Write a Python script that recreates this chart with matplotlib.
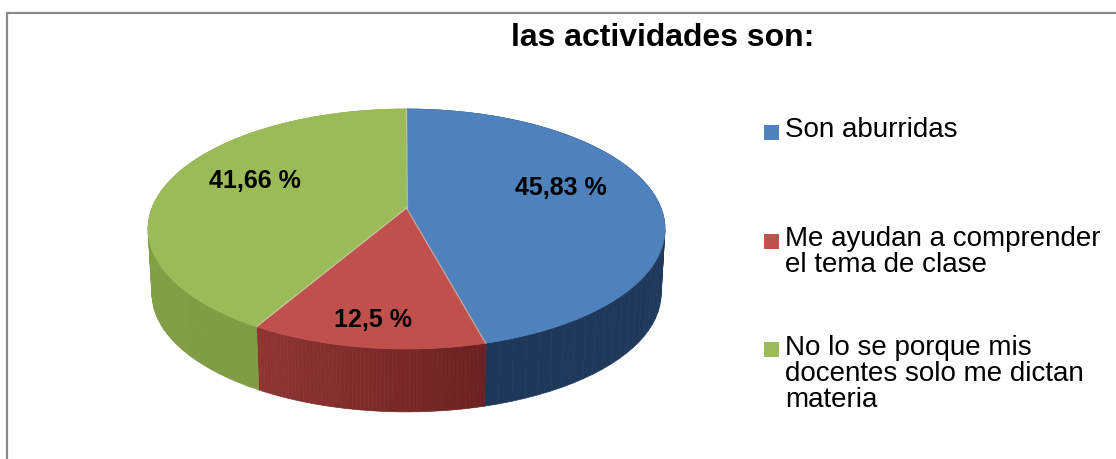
import numpy as np
import matplotlib
matplotlib.use('Agg')
import matplotlib.pyplot as plt
from matplotlib.patches import Polygon, Rectangle

# data
categories = ['Son aburridas', 'Me ayudan a comprender\nel tema de clase',
              'No lo se porque mis\ndocentes solo me dictan\nmateria']
values = [45.83, 12.5, 41.66]
value_labels = ['45,83 %', '12,5 %', '41,66 %']
title = 'las actividades son:'

top_colors = ['#4F81BD', '#C0504D', '#9BBB59']
wall_start = [(0.14, 0.24, 0.38), (0.42, 0.13, 0.13), (0.50, 0.61, 0.27)]
wall_end = [(0.12, 0.22, 0.35), (0.56, 0.21, 0.20), (0.53, 0.65, 0.29)]

label_pos = [(561, 188), (373, 320), (255, 181)]
legend_y = [125, 234, 342]
text_top = [117, 226, 335]

plt.rcParams['font.family'] = ['Liberation Sans', 'DejaVu Sans']

# pie geometry in pixels, tilted disk seen in perspective
cx, cy = 406.5, 208
a, b, k = 116.3, 254.5, 0.175
depth = 62


def project(theta, r=1.0, lower=False):
    # theta is clockwise from 12 o'clock
    u = r * np.sin(theta)
    v = r * np.cos(theta)
    s = 1 / (1 + k * v)
    x = b * u * s
    y = -a * v * s
    if lower:
        return cx + 0.985 * x, cy + 0.985 * y + depth + 3
    return cx + x, cy + y


fig = plt.figure(figsize=(11.16, 4.59), dpi=100)
ax = fig.add_axes([0, 0, 1, 1])
ax.set_xlim(0, 1116)
ax.set_ylim(459, 0)
ax.axis('off')

# frame of the chart, cut by the picture on the right and below
ax.plot([7, 7, 1116], [459, 12.5, 12.5], color='#8a8a8a', lw=1.6, solid_joinstyle='miter')

fracs = np.array(values) / sum(values)
edges = np.concatenate([[0], np.cumsum(fracs)]) * 2 * np.pi

# side walls
for i in range(len(values)):
    th = np.linspace(edges[i], edges[i + 1], 60)
    for j in range(len(th) - 1):
        t = j / (len(th) - 2)
        col = tuple(np.array(wall_start[i]) * (1 - t) + np.array(wall_end[i]) * t)
        x0, y0 = project(th[j])
        x1, y1 = project(th[j + 1])
        x2, y2 = project(th[j + 1], lower=True)
        x3, y3 = project(th[j], lower=True)
        ax.add_patch(Polygon([(x0, y0), (x1, y1), (x2, y2), (x3, y3)], closed=True,
                             facecolor=col, edgecolor=col, lw=0.5))

# top face
for i in range(len(values)):
    th = np.linspace(edges[i], edges[i + 1], 120)
    xs, ys = project(th)
    pts = [(cx, cy)] + list(zip(xs, ys))
    ax.add_patch(Polygon(pts, closed=True, facecolor=top_colors[i],
                         edgecolor=top_colors[i], lw=0.5))

# pale seams between the slices
for e in edges[1:]:
    x, y = project(e)
    ax.plot([cx, x], [cy, y], color='#d8d8c8', lw=0.9, alpha=0.6)

for lab, (x, y) in zip(value_labels, label_pos):
    ax.text(x, y, lab, ha='center', va='center', fontsize=18, fontweight='bold', color='black')

ax.text(663, 38, title, ha='center', va='center', fontsize=23, fontweight='bold', color='black')

# legend
for i in range(len(categories)):
    ax.add_patch(Rectangle((764, legend_y[i]), 15, 15, facecolor=top_colors[i], edgecolor='none'))
    ax.text(785, text_top[i], categories[i], ha='left', va='top', fontsize=20,
            linespacing=1.0, color='black')

fig.savefig('out.png', dpi=100)
